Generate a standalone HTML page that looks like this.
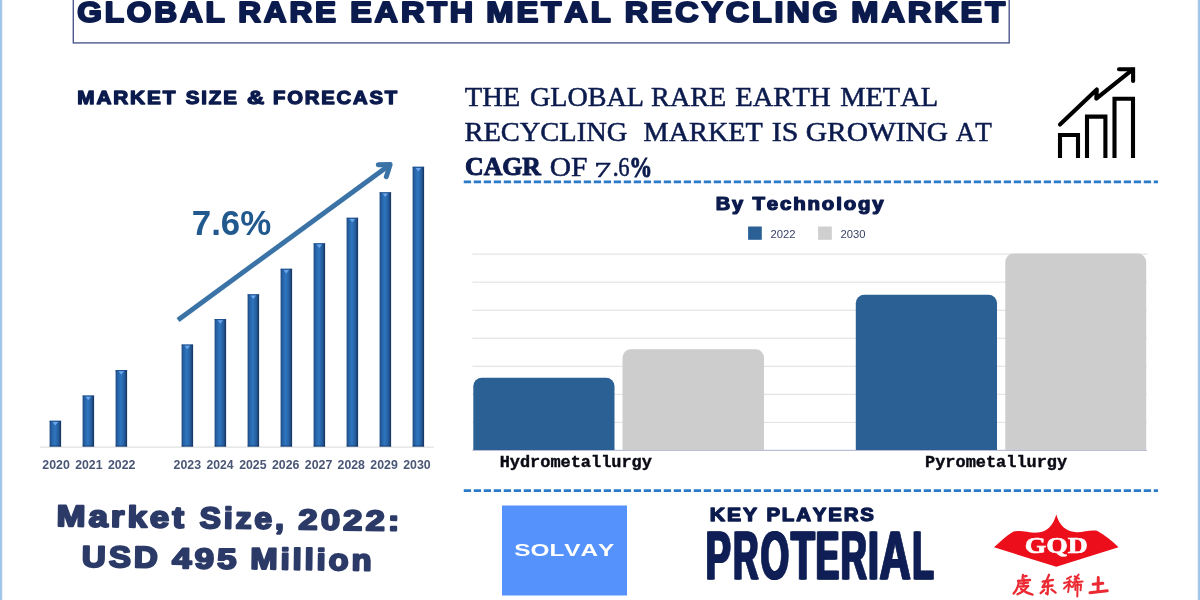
<!DOCTYPE html>
<html>
<head>
<meta charset="utf-8">
<title>Global Rare Earth Metal Recycling Market</title>
<style>
html,body{margin:0;padding:0;background:#fff;}
body{width:1200px;height:600px;overflow:hidden;font-family:"Liberation Sans",sans-serif;}
svg{display:block;will-change:transform;}
text{font-kerning:none;}
.sans{font-family:"Liberation Sans",sans-serif;}
.serif{font-family:"Liberation Serif",serif;}
.mono{font-family:"Liberation Mono",monospace;}
</style>
</head>
<body>
<svg width="1200" height="600" viewBox="0 0 1200 600">
<defs>
<linearGradient id="barg" x1="0" y1="0" x2="1" y2="0">
<stop offset="0" stop-color="#1b457c"/>
<stop offset="0.16" stop-color="#2560a3"/>
<stop offset="0.45" stop-color="#2e76bf"/>
<stop offset="0.76" stop-color="#255d9e"/>
<stop offset="1" stop-color="#15315a"/>
</linearGradient>
</defs>
<rect x="0" y="0" width="1200" height="600" fill="#ffffff"/>
<rect x="0" y="0" width="1" height="600" fill="#9dc3e7"/>
<rect x="1" y="0" width="1" height="600" fill="#a8caea"/>
<rect x="2" y="0" width="1" height="600" fill="#e6f1fa"/>
<rect x="1199" y="0" width="1" height="600" fill="#9dc3e7"/>
<rect x="1198" y="0" width="1" height="600" fill="#a8caea"/>
<rect x="1197" y="0" width="1" height="600" fill="#e6f1fa"/>

<!-- title box -->
<rect x="73.3" y="-5" width="935.9" height="47.9" fill="none" stroke="#4d598c" stroke-width="1.4"/>
<g fill="#0c1b4d" stroke="#0c1b4d" stroke-linejoin="round">
<text class="sans" font-weight="bold" x="77.24" y="22.27" font-size="29.27" stroke-width="2.07" letter-spacing="2.63" textLength="150.55" lengthAdjust="spacingAndGlyphs" >GLOBAL</text>
<text class="sans" font-weight="bold" x="238.23" y="22.27" font-size="29.27" stroke-width="2.07" letter-spacing="2.63" textLength="100.61" lengthAdjust="spacingAndGlyphs" >RARE</text>
<text class="sans" font-weight="bold" x="350.17" y="22.27" font-size="29.27" stroke-width="2.07" letter-spacing="2.63" textLength="125.88" lengthAdjust="spacingAndGlyphs" >EARTH</text>
<text class="sans" font-weight="bold" x="486.34" y="22.27" font-size="29.27" stroke-width="2.07" letter-spacing="2.63" textLength="127.37" lengthAdjust="spacingAndGlyphs" >METAL</text>
<text class="sans" font-weight="bold" x="624.68" y="22.27" font-size="29.27" stroke-width="2.07" letter-spacing="2.63" textLength="215.89" lengthAdjust="spacingAndGlyphs" >RECYCLING</text>
<text class="sans" font-weight="bold" x="851.36" y="22.27" font-size="29.27" stroke-width="2.07" letter-spacing="2.63" textLength="156.69" lengthAdjust="spacingAndGlyphs" >MARKET</text>
<text class="sans" font-weight="bold" x="77.24" y="103.77" font-size="17.93" stroke-width="1.27" letter-spacing="1.61" textLength="100.02" lengthAdjust="spacingAndGlyphs" >MARKET</text>
<text class="sans" font-weight="bold" x="185.84" y="103.77" font-size="17.93" stroke-width="1.27" letter-spacing="1.61" textLength="52.87" lengthAdjust="spacingAndGlyphs" >SIZE</text>
<text class="sans" font-weight="bold" x="247.08" y="103.77" font-size="17.93" stroke-width="1.27" letter-spacing="1.61" textLength="19.38" lengthAdjust="spacingAndGlyphs" >&amp;</text>
<text class="sans" font-weight="bold" x="272.98" y="103.77" font-size="17.93" stroke-width="1.27" letter-spacing="1.61" textLength="125.93" lengthAdjust="spacingAndGlyphs" >FORECAST</text>
<text class="sans" font-weight="bold" x="715.68" y="210.18" font-size="17.53" stroke-width="1.24" letter-spacing="1.58" textLength="29.21" lengthAdjust="spacingAndGlyphs" >By</text>
<text class="sans" font-weight="bold" x="752.49" y="210.18" font-size="17.53" stroke-width="1.24" letter-spacing="1.58" textLength="133.04" lengthAdjust="spacingAndGlyphs" >Technology</text>
<text class="sans" font-weight="bold" x="709.85" y="520.93" font-size="18.85" stroke-width="1.33" letter-spacing="1.70" textLength="49.23" lengthAdjust="spacingAndGlyphs" >KEY</text>
<text class="sans" font-weight="bold" x="766.40" y="520.93" font-size="18.85" stroke-width="1.33" letter-spacing="1.70" textLength="109.37" lengthAdjust="spacingAndGlyphs" >PLAYERS</text>
</g>

<!-- left chart -->
<rect x="40" y="446.6" width="394" height="1" fill="#d9d9d9"/>
<rect x="49.6" y="420.75" width="11.5" height="25.850000000000023" fill="url(#barg)"/>
<rect x="49.6" y="445.4" width="11.5" height="1.2" fill="#14305a" opacity="0.55"/>
<rect x="49.6" y="420.75" width="11.5" height="1" fill="#1c4a86" opacity="0.7"/>
<path d="M52.5,422.05 L58.1,422.05 L55.3,425.55 Z" fill="#73abef" opacity="0.9"/>
<rect x="82.6" y="395.5" width="11.5" height="51.10000000000002" fill="url(#barg)"/>
<rect x="82.6" y="445.4" width="11.5" height="1.2" fill="#14305a" opacity="0.55"/>
<rect x="82.6" y="395.5" width="11.5" height="1" fill="#1c4a86" opacity="0.7"/>
<path d="M85.5,396.8 L91.1,396.8 L88.3,400.3 Z" fill="#73abef" opacity="0.9"/>
<rect x="115.6" y="370" width="11.5" height="76.60000000000002" fill="url(#barg)"/>
<rect x="115.6" y="445.4" width="11.5" height="1.2" fill="#14305a" opacity="0.55"/>
<rect x="115.6" y="370" width="11.5" height="1" fill="#1c4a86" opacity="0.7"/>
<path d="M118.5,371.3 L124.1,371.3 L121.3,374.8 Z" fill="#73abef" opacity="0.9"/>
<rect x="181.6" y="344.5" width="11.5" height="102.10000000000002" fill="url(#barg)"/>
<rect x="181.6" y="445.4" width="11.5" height="1.2" fill="#14305a" opacity="0.55"/>
<rect x="181.6" y="344.5" width="11.5" height="1" fill="#1c4a86" opacity="0.7"/>
<path d="M184.5,345.8 L190.1,345.8 L187.3,349.3 Z" fill="#73abef" opacity="0.9"/>
<rect x="214.6" y="319" width="11.5" height="127.60000000000002" fill="url(#barg)"/>
<rect x="214.6" y="445.4" width="11.5" height="1.2" fill="#14305a" opacity="0.55"/>
<rect x="214.6" y="319" width="11.5" height="1" fill="#1c4a86" opacity="0.7"/>
<path d="M217.5,320.3 L223.1,320.3 L220.3,323.8 Z" fill="#73abef" opacity="0.9"/>
<rect x="247.6" y="294.25" width="11.5" height="152.35000000000002" fill="url(#barg)"/>
<rect x="247.6" y="445.4" width="11.5" height="1.2" fill="#14305a" opacity="0.55"/>
<rect x="247.6" y="294.25" width="11.5" height="1" fill="#1c4a86" opacity="0.7"/>
<path d="M250.5,295.55 L256.1,295.55 L253.3,299.05 Z" fill="#73abef" opacity="0.9"/>
<rect x="280.6" y="268.75" width="11.5" height="177.85000000000002" fill="url(#barg)"/>
<rect x="280.6" y="445.4" width="11.5" height="1.2" fill="#14305a" opacity="0.55"/>
<rect x="280.6" y="268.75" width="11.5" height="1" fill="#1c4a86" opacity="0.7"/>
<path d="M283.5,270.05 L289.1,270.05 L286.3,273.55 Z" fill="#73abef" opacity="0.9"/>
<rect x="313.6" y="243.25" width="11.5" height="203.35000000000002" fill="url(#barg)"/>
<rect x="313.6" y="445.4" width="11.5" height="1.2" fill="#14305a" opacity="0.55"/>
<rect x="313.6" y="243.25" width="11.5" height="1" fill="#1c4a86" opacity="0.7"/>
<path d="M316.5,244.55 L322.1,244.55 L319.3,248.05 Z" fill="#73abef" opacity="0.9"/>
<rect x="346.6" y="217.75" width="11.5" height="228.85000000000002" fill="url(#barg)"/>
<rect x="346.6" y="445.4" width="11.5" height="1.2" fill="#14305a" opacity="0.55"/>
<rect x="346.6" y="217.75" width="11.5" height="1" fill="#1c4a86" opacity="0.7"/>
<path d="M349.5,219.05 L355.1,219.05 L352.3,222.55 Z" fill="#73abef" opacity="0.9"/>
<rect x="379.6" y="192.25" width="11.5" height="254.35000000000002" fill="url(#barg)"/>
<rect x="379.6" y="445.4" width="11.5" height="1.2" fill="#14305a" opacity="0.55"/>
<rect x="379.6" y="192.25" width="11.5" height="1" fill="#1c4a86" opacity="0.7"/>
<path d="M382.5,193.55 L388.1,193.55 L385.3,197.05 Z" fill="#73abef" opacity="0.9"/>
<rect x="412.6" y="166.75" width="11.5" height="279.85" fill="url(#barg)"/>
<rect x="412.6" y="445.4" width="11.5" height="1.2" fill="#14305a" opacity="0.55"/>
<rect x="412.6" y="166.75" width="11.5" height="1" fill="#1c4a86" opacity="0.7"/>
<path d="M415.5,168.05 L421.1,168.05 L418.3,171.55 Z" fill="#73abef" opacity="0.9"/>
<g fill="#4a5676">
<text class="sans" font-weight="bold" x="42.37" y="469.40" font-size="12.60" textLength="27.54" lengthAdjust="spacingAndGlyphs" >2020</text>
<text class="sans" font-weight="bold" x="75.17" y="469.40" font-size="12.60" textLength="27.37" lengthAdjust="spacingAndGlyphs" >2021</text>
<text class="sans" font-weight="bold" x="107.97" y="469.40" font-size="12.60" textLength="27.52" lengthAdjust="spacingAndGlyphs" >2022</text>
<text class="sans" font-weight="bold" x="173.57" y="469.40" font-size="12.60" textLength="27.47" lengthAdjust="spacingAndGlyphs" >2023</text>
<text class="sans" font-weight="bold" x="206.38" y="469.40" font-size="12.60" textLength="27.09" lengthAdjust="spacingAndGlyphs" >2024</text>
<text class="sans" font-weight="bold" x="239.17" y="469.40" font-size="12.60" textLength="27.37" lengthAdjust="spacingAndGlyphs" >2025</text>
<text class="sans" font-weight="bold" x="271.97" y="469.40" font-size="12.60" textLength="27.47" lengthAdjust="spacingAndGlyphs" >2026</text>
<text class="sans" font-weight="bold" x="304.77" y="469.40" font-size="12.60" textLength="27.57" lengthAdjust="spacingAndGlyphs" >2027</text>
<text class="sans" font-weight="bold" x="337.57" y="469.40" font-size="12.60" textLength="27.41" lengthAdjust="spacingAndGlyphs" >2028</text>
<text class="sans" font-weight="bold" x="370.37" y="469.40" font-size="12.60" textLength="27.49" lengthAdjust="spacingAndGlyphs" >2029</text>
<text class="sans" font-weight="bold" x="403.17" y="469.40" font-size="12.60" textLength="27.54" lengthAdjust="spacingAndGlyphs" >2030</text>
</g>
<!-- arrow -->
<g fill="none" stroke="#3b73a7" stroke-width="4.9">
<path d="M178,320 L389.6,164.9"/>
<path d="M378.2,164.7 L390.2,164.5 L386.3,176.7" stroke-linecap="round" stroke-linejoin="round"/>
</g>
<g fill="#21598f">
<text class="sans" font-weight="bold" x="191.80" y="234.50" font-size="34.40" textLength="79.42" lengthAdjust="spacingAndGlyphs" >7.6%</text>
</g>

<g fill="#2b3a67" stroke="#2b3a67" stroke-linejoin="round" transform="rotate(0.75 227 548)">
<text class="sans" font-weight="bold" x="56.23" y="528.25" font-size="29.79" stroke-width="2.10" letter-spacing="2.68" textLength="130.46" lengthAdjust="spacingAndGlyphs" >Market</text>
<text class="sans" font-weight="bold" x="199.33" y="528.25" font-size="29.79" stroke-width="2.10" letter-spacing="2.68" textLength="87.13" lengthAdjust="spacingAndGlyphs" >Size,</text>
<text class="sans" font-weight="bold" x="298.11" y="528.40" font-size="28.47" stroke-width="2.01" letter-spacing="2.56" textLength="104.03" lengthAdjust="spacingAndGlyphs" >2022:</text>
<text class="sans" font-weight="bold" x="82.07" y="568.55" font-size="29.79" stroke-width="2.10" letter-spacing="2.68" textLength="78.75" lengthAdjust="spacingAndGlyphs" >USD</text>
<text class="sans" font-weight="bold" x="172.18" y="568.70" font-size="28.47" stroke-width="2.01" letter-spacing="2.56" textLength="67.63" lengthAdjust="spacingAndGlyphs" >495</text>
<text class="sans" font-weight="bold" x="250.56" y="568.55" font-size="29.79" stroke-width="2.10" letter-spacing="2.68" textLength="124.16" lengthAdjust="spacingAndGlyphs" >Million</text>
</g>

<!-- serif heading -->
<g fill="#0c1b4d" stroke="#0c1b4d">
<text class="serif" font-weight="normal" x="464.73" y="105.55" font-size="26.30" stroke-width="0.50" textLength="55.64" lengthAdjust="spacingAndGlyphs" >THE</text>
<text class="serif" font-weight="normal" x="529.90" y="105.55" font-size="26.30" stroke-width="0.50" textLength="114.04" lengthAdjust="spacingAndGlyphs" >GLOBAL</text>
<text class="serif" font-weight="normal" x="651.14" y="105.55" font-size="26.30" stroke-width="0.50" textLength="75.01" lengthAdjust="spacingAndGlyphs" >RARE</text>
<text class="serif" font-weight="normal" x="735.23" y="105.55" font-size="26.30" stroke-width="0.50" textLength="95.36" lengthAdjust="spacingAndGlyphs" >EARTH</text>
<text class="serif" font-weight="normal" x="840.23" y="105.55" font-size="26.30" stroke-width="0.50" textLength="97.93" lengthAdjust="spacingAndGlyphs" >METAL</text>
<text class="serif" font-weight="normal" x="464.43" y="140.55" font-size="26.30" stroke-width="0.50" textLength="162.91" lengthAdjust="spacingAndGlyphs" >RECYCLING</text>
<text class="serif" font-weight="normal" x="643.64" y="140.55" font-size="26.30" stroke-width="0.50" textLength="119.08" lengthAdjust="spacingAndGlyphs" >MARKET</text>
<text class="serif" font-weight="normal" x="771.67" y="140.55" font-size="26.30" stroke-width="0.50" textLength="26.64" lengthAdjust="spacingAndGlyphs" >IS</text>
<text class="serif" font-weight="normal" x="805.74" y="140.55" font-size="26.30" stroke-width="0.50" textLength="142.43" lengthAdjust="spacingAndGlyphs" >GROWING</text>
<text class="serif" font-weight="normal" x="955.79" y="140.55" font-size="26.30" stroke-width="0.50" textLength="36.11" lengthAdjust="spacingAndGlyphs" >AT</text>
<text class="serif" font-weight="bold" x="465.04" y="175.40" font-size="25.80" stroke-width="1.00" textLength="75.93" lengthAdjust="spacingAndGlyphs" >CAGR</text>
<text class="serif" font-weight="normal" x="549.84" y="175.55" font-size="26.30" stroke-width="0.50" textLength="37.67" lengthAdjust="spacingAndGlyphs" >OF</text>
<text class="serif" font-weight="normal" x="594.22" y="177.35" font-size="20.60" stroke-width="0.50" textLength="16.90" lengthAdjust="spacingAndGlyphs" >7</text>
<text class="serif" font-weight="normal" x="612.58" y="175.55" font-size="26.30" stroke-width="0.50" textLength="6.35" lengthAdjust="spacingAndGlyphs" >.</text>
<text class="serif" font-weight="normal" x="618.27" y="175.55" font-size="26.30" stroke-width="0.50" textLength="11.35" lengthAdjust="spacingAndGlyphs" >6</text>
<text class="serif" font-weight="bold" x="629.29" y="176.55" font-size="28.50" stroke-width="0.90" textLength="23.02" lengthAdjust="spacingAndGlyphs" >%</text>
</g>
<line x1="463.75" y1="181.8" x2="1158" y2="181.8" stroke="#2b79c9" stroke-width="2.7" stroke-dasharray="7.3 2.7"/>
<line x1="463.75" y1="490.7" x2="1158" y2="490.7" stroke="#2b79c9" stroke-width="2.7" stroke-dasharray="7.3 2.7"/>

<!-- icon -->
<g fill="none" stroke="#000" stroke-width="4.1" stroke-linejoin="miter">
<path d="M1060,158 V135 H1078 V158"/>
<path d="M1087,158 V116.6 H1105.4 V158"/>
<path d="M1114.5,158 V98.8 H1133 V158"/>
<path d="M1060,124.5 L1096.8,89.4 L1096.3,98.6 L1132.5,69.6" stroke-linecap="round" stroke-linejoin="round"/>
<path d="M1119,69.2 H1133.1 V81" stroke-linecap="round"/>
</g>

<!-- legend -->
<rect x="748.1" y="226.5" width="13.7" height="13.3" fill="#2a6096"/>
<rect x="818.1" y="226.5" width="13.7" height="13.3" fill="#cfcfcf"/>
<g fill="#3b4468">
<text class="sans" font-weight="normal" x="770.43" y="237.70" font-size="11.60" textLength="25.14" lengthAdjust="spacingAndGlyphs" >2022</text>
<text class="sans" font-weight="normal" x="840.43" y="237.70" font-size="11.60" textLength="25.00" lengthAdjust="spacingAndGlyphs" >2030</text>
</g>

<!-- right chart -->
<rect x="472.4" y="253.55" width="674.6" height="1.1" fill="#e1e1e6"/>
<rect x="472.4" y="281.60" width="674.6" height="1.1" fill="#e1e1e6"/>
<rect x="472.4" y="309.65" width="674.6" height="1.1" fill="#e1e1e6"/>
<rect x="472.4" y="337.70" width="674.6" height="1.1" fill="#e1e1e6"/>
<rect x="472.4" y="365.75" width="674.6" height="1.1" fill="#e1e1e6"/>
<rect x="472.4" y="393.80" width="674.6" height="1.1" fill="#e1e1e6"/>
<rect x="472.4" y="421.85" width="674.6" height="1.1" fill="#e1e1e6"/>
<rect x="472.4" y="449.8" width="674.6" height="1.2" fill="#b9bdd8"/>
<path d="M473.3,450 V386.3 a8.5,8.5 0 0 1 8.5,-8.5 H606.0 a8.5,8.5 0 0 1 8.5,8.5 V450 Z" fill="#2a6093"/>
<path d="M622.5,450 V357.8 a8.5,8.5 0 0 1 8.5,-8.5 H755.5 a8.5,8.5 0 0 1 8.5,8.5 V450 Z" fill="#cdcdcd"/>
<path d="M855.8,450 V303.2 a8.5,8.5 0 0 1 8.5,-8.5 H988.5 a8.5,8.5 0 0 1 8.5,8.5 V450 Z" fill="#2a6093"/>
<path d="M1005.3,450 V262.1 a8.5,8.5 0 0 1 8.5,-8.5 H1137.7 a8.5,8.5 0 0 1 8.5,8.5 V450 Z" fill="#cdcdcd"/>
<g fill="#0a0a14" stroke="#0a0a14">
<text class="mono" font-weight="bold" x="499.66" y="467.00" font-size="16.60" stroke-width="0.40" textLength="152.26" lengthAdjust="spacingAndGlyphs" >Hydrometallurgy</text>
<text class="mono" font-weight="bold" x="925.08" y="467.00" font-size="16.60" stroke-width="0.40" textLength="142.04" lengthAdjust="spacingAndGlyphs" >Pyrometallurgy</text>
</g>

<!-- Solvay -->
<rect x="502" y="505.5" width="125" height="90" fill="#5592fc"/>
<g fill="#ffffff">
<text class="sans" font-weight="bold" x="514.30" y="556.10" font-size="16.20" textLength="99.99" lengthAdjust="spacingAndGlyphs" >SOLVAY</text>
</g>

<!-- Proterial -->
<g fill="#0f1f55" stroke="#0f1f55" stroke-linejoin="miter">
<text class="sans" font-weight="bold" x="704.68" y="579.40" font-size="68.00" stroke-width="1.00" textLength="25.10" lengthAdjust="spacingAndGlyphs" >P</text>
<text class="sans" font-weight="bold" x="705.58" y="579.40" font-size="68.00" stroke-width="1.00" textLength="25.10" lengthAdjust="spacingAndGlyphs" >P</text>
<text class="sans" font-weight="bold" x="706.48" y="579.40" font-size="68.00" stroke-width="1.00" textLength="25.10" lengthAdjust="spacingAndGlyphs" >P</text>
<text class="sans" font-weight="bold" x="732.16" y="579.40" font-size="68.00" stroke-width="1.00" textLength="25.26" lengthAdjust="spacingAndGlyphs" >R</text>
<text class="sans" font-weight="bold" x="733.06" y="579.40" font-size="68.00" stroke-width="1.00" textLength="25.26" lengthAdjust="spacingAndGlyphs" >R</text>
<text class="sans" font-weight="bold" x="733.96" y="579.40" font-size="68.00" stroke-width="1.00" textLength="25.26" lengthAdjust="spacingAndGlyphs" >R</text>
<text class="sans" font-weight="bold" x="759.80" y="579.40" font-size="68.00" stroke-width="1.00" textLength="28.43" lengthAdjust="spacingAndGlyphs" >O</text>
<text class="sans" font-weight="bold" x="760.70" y="579.40" font-size="68.00" stroke-width="1.00" textLength="28.43" lengthAdjust="spacingAndGlyphs" >O</text>
<text class="sans" font-weight="bold" x="761.60" y="579.40" font-size="68.00" stroke-width="1.00" textLength="28.43" lengthAdjust="spacingAndGlyphs" >O</text>
<text class="sans" font-weight="bold" x="790.06" y="579.40" font-size="68.00" stroke-width="1.00" textLength="23.86" lengthAdjust="spacingAndGlyphs" >T</text>
<text class="sans" font-weight="bold" x="790.96" y="579.40" font-size="68.00" stroke-width="1.00" textLength="23.86" lengthAdjust="spacingAndGlyphs" >T</text>
<text class="sans" font-weight="bold" x="791.86" y="579.40" font-size="68.00" stroke-width="1.00" textLength="23.86" lengthAdjust="spacingAndGlyphs" >T</text>
<text class="sans" font-weight="bold" x="814.85" y="579.40" font-size="68.00" stroke-width="1.00" textLength="23.42" lengthAdjust="spacingAndGlyphs" >E</text>
<text class="sans" font-weight="bold" x="815.75" y="579.40" font-size="68.00" stroke-width="1.00" textLength="23.42" lengthAdjust="spacingAndGlyphs" >E</text>
<text class="sans" font-weight="bold" x="816.65" y="579.40" font-size="68.00" stroke-width="1.00" textLength="23.42" lengthAdjust="spacingAndGlyphs" >E</text>
<text class="sans" font-weight="bold" x="839.78" y="579.40" font-size="68.00" stroke-width="1.00" textLength="26.17" lengthAdjust="spacingAndGlyphs" >R</text>
<text class="sans" font-weight="bold" x="840.68" y="579.40" font-size="68.00" stroke-width="1.00" textLength="26.17" lengthAdjust="spacingAndGlyphs" >R</text>
<text class="sans" font-weight="bold" x="841.58" y="579.40" font-size="68.00" stroke-width="1.00" textLength="26.17" lengthAdjust="spacingAndGlyphs" >R</text>
<text class="sans" font-weight="bold" x="867.15" y="579.40" font-size="68.00" stroke-width="1.00" textLength="10.61" lengthAdjust="spacingAndGlyphs" >I</text>
<text class="sans" font-weight="bold" x="868.05" y="579.40" font-size="68.00" stroke-width="1.00" textLength="10.61" lengthAdjust="spacingAndGlyphs" >I</text>
<text class="sans" font-weight="bold" x="868.95" y="579.40" font-size="68.00" stroke-width="1.00" textLength="10.61" lengthAdjust="spacingAndGlyphs" >I</text>
<text class="sans" font-weight="bold" x="878.63" y="579.40" font-size="68.00" stroke-width="1.00" textLength="31.00" lengthAdjust="spacingAndGlyphs" >A</text>
<text class="sans" font-weight="bold" x="879.53" y="579.40" font-size="68.00" stroke-width="1.00" textLength="31.00" lengthAdjust="spacingAndGlyphs" >A</text>
<text class="sans" font-weight="bold" x="880.43" y="579.40" font-size="68.00" stroke-width="1.00" textLength="31.00" lengthAdjust="spacingAndGlyphs" >A</text>
<text class="sans" font-weight="bold" x="911.44" y="579.40" font-size="68.00" stroke-width="1.00" textLength="21.54" lengthAdjust="spacingAndGlyphs" >L</text>
<text class="sans" font-weight="bold" x="912.34" y="579.40" font-size="68.00" stroke-width="1.00" textLength="21.54" lengthAdjust="spacingAndGlyphs" >L</text>
<text class="sans" font-weight="bold" x="913.24" y="579.40" font-size="68.00" stroke-width="1.00" textLength="21.54" lengthAdjust="spacingAndGlyphs" >L</text>
</g>

<!-- GQD -->
<path d="M1056.3,514.5 C1053,526 1047,531.5 1038,532.5 C1030,533.5 1022,529.5 1013.5,531.5 C1006,536 1000,542 994,547.3 L1056.3,566.8 L1118.5,547.3 C1112,541 1105,535 1097,530.8 C1089,529.5 1082,533 1075,532 C1066,531 1059.5,526 1056.3,514.5 Z" fill="#ec0e1a"/>
<g fill="#ffffff" stroke="#ffffff">
<text class="serif" font-weight="bold" x="1024.75" y="552.70" font-size="22.40" stroke-width="0.60" textLength="63.00" lengthAdjust="spacingAndGlyphs" >GQD</text>
</g>

<!-- CJK approximations -->
<g fill="none" stroke="#e9151f" stroke-linecap="round" stroke-linejoin="round" opacity="0.9">
<g stroke-width="2.3">
<path d="M1023,574.8 L1022.5,578.6 M1022.6,576.6 L1026.5,576"/>
<path d="M1018,580.9 L1030,580"/>
<path d="M1018.8,581 Q1018.6,588 1013.6,593.6"/>
<path d="M1020.5,583.3 L1028,582.6 M1024,579.5 L1023.6,586.4"/>
<path d="M1019.6,586.6 L1028.2,586"/>
<path d="M1027,587.2 Q1024,591.5 1017.5,594.2"/>
<path d="M1021,589 Q1026,593 1032.6,594.6"/>
</g>
<g stroke-width="2.3">
<path d="M1049,574.8 Q1047,581 1042.6,587"/>
<path d="M1042.6,581.6 L1053,579.8"/>
<path d="M1042.8,587 L1052.6,585.5"/>
<path d="M1048.2,581.5 L1047.6,594.3 L1046,593.2"/>
<path d="M1044.2,589.8 L1040.6,593.2"/>
<path d="M1051.4,589.4 L1055.6,592.6"/>
</g>
<g stroke-width="2.0">
<path d="M1067,578.8 L1071,576.6"/>
<path d="M1064,583 L1071,581.6"/>
<path d="M1069.6,580 L1068.2,592"/>
<path d="M1068.6,584 L1064,588.6"/>
<path d="M1069.6,584.6 L1071.4,587"/>
<path d="M1074.6,576.4 L1079,578.6 M1078.6,574.6 L1074.6,579.6"/>
<path d="M1072.6,582.6 L1082.6,581.4"/>
<path d="M1076.6,580 L1072.6,587"/>
<path d="M1075.4,585.4 L1075.4,590 M1075.4,585.2 L1081,584.6 L1080.6,590.2"/>
<path d="M1077.6,582.4 L1077.3,596.4"/>
</g>
<g stroke-width="3.0">
<path d="M1098.3,577.6 L1098,591.4"/>
<path d="M1093.2,584.3 L1102.8,583.3"/>
<path d="M1090,592.7 L1107.2,590.8"/>
</g>
</g>

</svg>
</body>
</html>
